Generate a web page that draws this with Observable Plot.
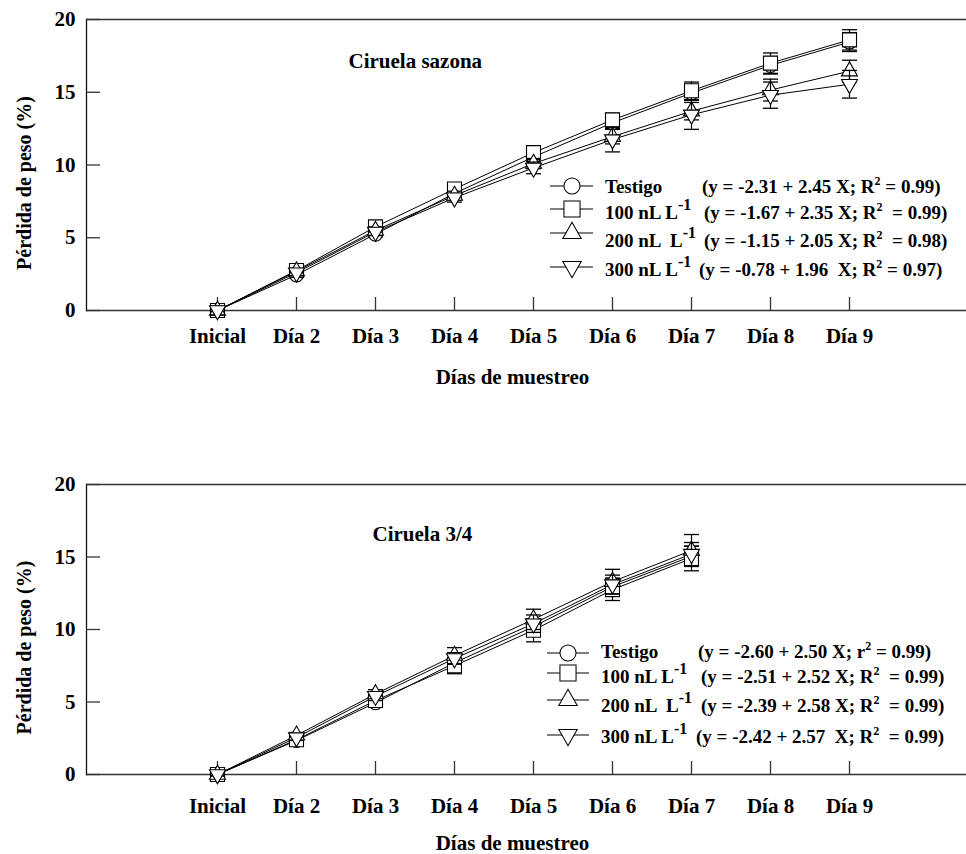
<!DOCTYPE html>
<html><head><meta charset="utf-8">
<script src="https://cdn.jsdelivr.net/npm/d3@7"></script>
<script src="https://cdn.jsdelivr.net/npm/@observablehq/plot@0.6"></script>
<style>
html,body{margin:0;padding:0;background:#fff;}
#chart{width:966px;}
#chart svg{display:block;}
</style></head><body><div id="chart"></div>
<script>
// ---------- data ----------
const days = ["Inicial","Día 2","Día 3","Día 4","Día 5","Día 6","Día 7","Día 8","Día 9"];
const yTicks = [0, 5, 10, 15, 20];
const seriesKeys = ["Testigo", "100", "200", "300"];
const legendNames = ["Testigo", "100 nL L", "200 nL  L", "300 nL L"];
const legendSup = ["", "-1", "-1", "-1"];

// Ciruela sazona
const sazTestigo = [0, 2.45, 5.25, 8.05, 10.55, 12.9, 14.95, 16.85, 18.45];
const saz100     = [0, 2.75, 5.75, 8.35, 10.85, 13.1, 15.1, 17.0, 18.6];
const saz200     = [0, 2.7, 5.5, 7.9, 10.1, 11.95, 13.7, 15.15, 16.45];
const saz300     = [0, 2.6, 5.4, 7.75, 9.8, 11.75, 13.45, 14.8, 15.55];
const sazTestigoErr = [0.15, 0.15, 0.2, 0.25, 0.3, 0.4, 0.5, 0.6, 0.65];
const saz100Err     = [0.15, 0.15, 0.2, 0.25, 0.3, 0.45, 0.6, 0.7, 0.7];
const saz200Err     = [0.25, 0.2, 0.25, 0.3, 0.35, 0.5, 0.6, 0.75, 0.75];
const saz300Err     = [0.3, 0.2, 0.25, 0.3, 0.4, 0.85, 1.0, 0.9, 0.95];
const sazEq = ["y = -2.31 + 2.45 X; R", "y = -1.67 + 2.35 X; R", "y = -1.15 + 2.05 X; R", "y = -0.78 + 1.96  X; R"];
const sazR2 = ["= 0.99", " = 0.99", " = 0.98", "= 0.97"];

// Ciruela 3/4
const c34Testigo = [0, 2.35, 4.95, 7.7, 10.2, 12.95, 15.05, null, null];
const c34_100    = [0, 2.4, 5.1, 7.5, 9.95, 12.75, 14.9, null, null];
const c34_200    = [0, 2.7, 5.55, 8.2, 10.7, 13.3, 15.45, null, null];
const c34_300    = [0, 2.55, 5.4, 8.0, 10.4, 13.1, 15.2, null, null];
const c34TestigoErr = [0.1, 0.2, 0.25, 0.35, 0.5, 0.6, 0.7, null, null];
const c34_100Err    = [0.1, 0.2, 0.3, 0.55, 0.8, 0.75, 0.85, null, null];
const c34_200Err    = [0.25, 0.2, 0.3, 0.55, 0.7, 0.85, 1.1, null, null];
const c34_300Err    = [0.1, 0.2, 0.3, 0.4, 0.6, 0.65, 0.8, null, null];
const c34Eq = ["y = -2.60 + 2.50 X; r", "y = -2.51 + 2.52 X; R", "y = -2.39 + 2.58 X; R", "y = -2.42 + 2.57  X; R"];
const c34R2 = ["= 0.99", " = 0.99", " = 0.99", " = 0.99"];

// ---------- symbols ----------
const FONT = "'Liberation Serif', 'Times New Roman', serif";
const symCircle = {draw(c){ c.moveTo(7,0); c.arc(0,0,7,0,2*Math.PI); c.closePath(); }};
const symSquare = {draw(c){ c.moveTo(-7,-7); c.lineTo(7,-7); c.lineTo(7,7); c.lineTo(-7,7); c.closePath(); }};
const symUp = {draw(c){ c.moveTo(0,-9.3); c.lineTo(8,4.7); c.lineTo(-8,4.7); c.closePath(); }};
const symDown = {draw(c){ c.moveTo(0,9.3); c.lineTo(8,-4.7); c.lineTo(-8,-4.7); c.closePath(); }};
const symCap = {draw(c){ c.moveTo(-7.5,0); c.lineTo(7.5,0); }};
const symbols = [symCircle, symSquare, symUp, symDown];

function buildRows(valueArrays, errArrays) {
  const out = [];
  valueArrays.forEach((vals, s) => {
    vals.forEach((v, i) => {
      if (v != null) out.push({day: days[i], v, e: errArrays[s][i], s: seriesKeys[s], si: s});
    });
  });
  return out;
}

function makeChart(cfg) {
  const rows = buildRows(cfg.values, cfg.errors);
  const plotH = cfg.height - cfg.marginTop - cfg.marginBottom;
  const marks = [
    Plot.ruleY([0, 20], {stroke: "#333", strokeWidth: 1.3}),
    Plot.frame({anchor: "left", stroke: "#111", strokeWidth: 1.3}),
    Plot.tickY(yTicks, {y: d => d, insetRight: 966 - 86 - 14, stroke: "#333", strokeWidth: 1.3}),
    Plot.tickX(days, {x: d => d, insetTop: plotH - 13, stroke: "#333", strokeWidth: 1.3}),
    Plot.axisY({ticks: yTicks, tickSize: 0, tickPadding: 11, label: null, fontSize: 21, fontWeight: "bold"}),
    Plot.axisX({tickSize: 0, tickPadding: cfg.xPad, label: null, fontSize: 21, fontWeight: "bold"}),
    Plot.text(["Días de muestreo"], {frameAnchor: "bottom", dx: -14, dy: cfg.xTitleDy, fontSize: 21, fontWeight: "bold", lineAnchor: "middle", textAnchor: "middle"}),
    Plot.text(["Pérdida de peso (%)"], {frameAnchor: "left", rotate: -90, dx: -62, dy: 18, fontSize: 20, fontWeight: "bold", lineAnchor: "middle", textAnchor: "middle"}),
    Plot.text([cfg.title], {frameAnchor: "top-left", dx: cfg.titleDx, dy: cfg.titleDy, textAnchor: "start", lineAnchor: "middle", fontSize: 21, fontWeight: "bold"}),
    Plot.line(rows, {x: "day", y: "v", z: "s", stroke: "black", strokeWidth: 1})
  ];
  seriesKeys.forEach((k, s) => {
    const sr = rows.filter(r => r.si === s);
    marks.push(
      Plot.ruleX(sr, {x: "day", y1: r => r.v - r.e, y2: r => r.v + r.e, stroke: "black", strokeWidth: 1.2}),
      Plot.dot(sr, {x: "day", y: r => r.v + r.e, symbol: symCap, r: 1, stroke: "black", strokeWidth: 1.3}),
      Plot.dot(sr, {x: "day", y: r => r.v - r.e, symbol: symCap, r: 1, stroke: "black", strokeWidth: 1.3}),
      Plot.dot(sr, {x: "day", y: "v", symbol: symbols[s], r: 1, fill: "white", stroke: "black", strokeWidth: 1.1})
    );
  });
  const svg = Plot.plot({
    width: 966, height: cfg.height,
    marginTop: cfg.marginTop, marginBottom: cfg.marginBottom, marginLeft: 86, marginRight: 0,
    style: {fontFamily: FONT, fontWeight: "bold", color: "black", background: "white", overflow: "visible"},
    x: {type: "point", domain: days, range: [176, 890]},
    y: {domain: [0, 20]},
    marks
  });
  addLegend(svg, cfg);
  return svg;
}

function addLegend(svg, cfg) {
  const L = cfg.legend;
  const g = d3.select(svg).append("g")
    .attr("font-family", FONT).attr("font-weight", "bold").attr("font-size", 19)
    .attr("fill", "black").attr("text-anchor", "start");
  seriesKeys.forEach((k, i) => {
    const my = L.markerY[i];
    g.append("line").attr("x1", L.lineX1).attr("x2", L.lineX2).attr("y1", my).attr("y2", my)
      .attr("stroke", "black").attr("stroke-width", 1);
    g.append("path").attr("transform", `translate(${L.markerX},${my}) scale(1.15)`)
      .attr("d", d3.symbol(symbols[i])()).attr("fill", "white").attr("stroke", "black").attr("stroke-width", 0.9);
    const t = g.append("text").attr("x", L.nameX).attr("y", L.baseY[i]).style("white-space", "pre");
    t.append("tspan").text(legendNames[i]);
    if (legendSup[i]) t.append("tspan").attr("dy", -9).attr("font-size", 16).text(legendSup[i]);
    const e = g.append("text").attr("x", L.eqX[i]).attr("y", L.baseY[i]).style("white-space", "pre");
    e.append("tspan").text("(" + cfg.eq[i]);
    e.append("tspan").attr("dy", -8).attr("font-size", 12).text("2");
    e.append("tspan").attr("dy", 8).text(" " + cfg.r2[i] + ")");
  });
}

const chartTop = makeChart({
  height: 420, marginTop: 19, marginBottom: 110, xPad: 18, xTitleDy: 67,
  title: "Ciruela sazona", titleDx: 348 - 86, titleDy: 42,
  values: [sazTestigo, saz100, saz200, saz300],
  errors: [sazTestigoErr, saz100Err, saz200Err, saz300Err],
  eq: sazEq, r2: sazR2,
  legend: {lineX1: 550, lineX2: 593, markerX: 572, markerY: [186, 209, 233, 267],
           nameX: 605, baseY: [193, 219, 247, 276], eqX: [702, 704, 704, 699]}
});
const chartBottom = makeChart({
  height: 434, marginTop: 64, marginBottom: 80, xPad: 24, xTitleDy: 69,
  title: "Ciruela 3/4", titleDx: 372 - 86, titleDy: 50,
  values: [c34Testigo, c34_100, c34_200, c34_300],
  errors: [c34TestigoErr, c34_100Err, c34_200Err, c34_300Err],
  eq: c34Eq, r2: c34R2,
  legend: {lineX1: 547, lineX2: 589, markerX: 568, markerY: [653 - 420, 673 - 420, 700 - 420, 735 - 420],
           nameX: 601, baseY: [658 - 420, 683 - 420, 712 - 420, 743 - 420], eqX: [698, 701, 701, 696]}
});
document.getElementById("chart").append(chartTop, chartBottom);
</script>
</body></html>
